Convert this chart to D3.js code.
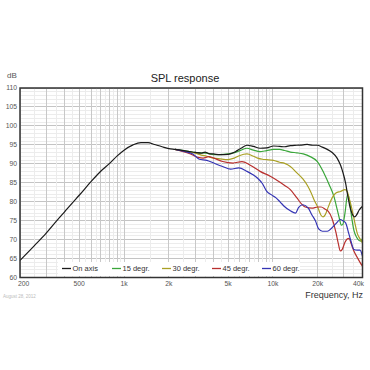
<!DOCTYPE html>
<html><head><meta charset="utf-8">
<script src="https://cdn.jsdelivr.net/npm/d3@7"></script>
<style>body{margin:0;background:#fff}svg{display:block;font-family:"Liberation Sans",Arial,sans-serif}</style>
</head><body><svg id="c" width="370" height="370"></svg>
<script>
const seriesNames = ["On axis","15 degr.","30 degr.","45 degr.","60 degr."];
const seriesColors = ["#1a1a1a","#3aa63a","#aaa024","#b8302e","#3434b4"];
const xTickValues = [200,500,1000,2000,5000,10000,20000,40000];
const xTickLabels = ["200","500","1k","2k","5k","10k","20k","40k"];
const yTickValues = [60,65,70,75,80,85,90,95,100,105,110];

const onAxis = [[200,64.5],[250,68.4],[300,71.7],[350,74.8],[400,77.4],[450,79.7],[500,81.7],[600,85.3],[700,88.1],[800,90.1],[900,92.1],[1000,93.6],[1150,95.0],[1300,95.6],[1450,95.6],[1600,95.1],[1800,94.5],[2000,94.0],[2200,93.8],[2400,93.6],[2700,93.3],[3000,93.0],[3300,92.8],[3500,93.1],[3700,92.7],[4000,92.6],[4400,92.4],[5000,92.5],[5600,93.2],[6100,94.1],[6700,94.9],[7400,94.6],[8200,94.1],[9100,94.2],[10100,94.7],[11100,94.6],[12000,94.5],[13100,94.8],[14500,94.9],[16000,95.0],[17000,95.1],[18500,94.9],[19900,94.9],[21500,94.4],[23200,93.8],[25000,93.0],[27000,91.5],[28500,89.6],[29500,87.8],[30800,84.9],[31900,81.4],[33300,77.9],[34500,76.4],[35500,76.0],[36500,76.5],[38000,77.8],[40000,78.8]];
const deg15 = [[2200,93.8],[2400,93.6],[2700,93.3],[3000,93.0],[3300,92.9],[3600,92.8],[4000,92.4],[4400,92.4],[5000,92.6],[5600,93.0],[6100,93.6],[6700,94.1],[7400,93.6],[8200,93.2],[9100,93.5],[10100,93.8],[11100,93.8],[12000,93.5],[13100,93.1],[14500,92.9],[16000,92.6],[17800,91.9],[19900,90.6],[22000,87.6],[23900,84.5],[25700,81.4],[27060,77.9],[28000,75.5],[28800,73.8],[29500,74.0],[30500,77.0],[31800,82.0],[32800,80.0],[33800,76.0],[35000,72.5],[36500,70.6],[38800,69.6],[40000,70.3]];
const deg30 = [[2200,93.8],[2400,93.5],[2700,93.1],[3000,92.8],[3300,92.3],[3600,92.0],[4000,91.5],[4400,91.3],[5000,91.1],[5500,91.5],[6000,92.2],[6700,92.6],[7400,92.0],[7900,91.5],[8500,91.2],[9100,91.1],[10100,90.9],[11100,90.4],[12000,90.1],[13100,89.3],[14500,87.6],[15900,86.0],[17100,84.2],[18000,82.5],[19000,80.3],[19900,78.8],[21000,76.5],[21700,76.0],[22500,76.6],[23500,78.5],[25000,81.0],[26500,82.3],[28500,82.7],[30500,83.2],[31500,82.8],[32500,81.0],[34000,78.0],[35500,74.5],[37000,71.5],[38500,70.2],[40000,69.1]];
const deg45 = [[2200,93.8],[2500,93.2],[2800,92.6],[3000,92.0],[3150,91.7],[3400,91.5],[3700,91.9],[4000,91.5],[4600,90.6],[5400,90.2],[6200,90.6],[7000,89.7],[8200,88.0],[9600,86.7],[11100,85.2],[12000,84.3],[13100,83.2],[14500,81.0],[15500,79.5],[16500,78.6],[18300,78.3],[20000,78.6],[21100,78.6],[22500,78.0],[23500,77.5],[25000,75.5],[26500,72.0],[27500,69.0],[28400,67.0],[29300,67.5],[30500,69.3],[31600,70.2],[32500,70.3],[33500,69.0],[35000,67.0],[37000,65.2],[38500,64.0],[40000,63.0]];
const deg60 = [[2200,93.8],[2500,93.3],[2900,92.6],[3200,91.2],[3600,90.9],[4000,90.2],[4600,89.3],[5200,88.6],[5900,88.9],[6700,88.0],[7300,87.2],[7900,86.2],[8500,84.8],[9100,82.7],[9800,81.8],[10500,81.0],[11200,79.9],[11900,78.8],[13100,77.6],[14200,77.0],[14900,78.5],[15900,79.2],[17300,78.3],[18300,76.5],[19300,75.0],[20300,72.8],[21500,72.2],[23200,72.2],[24800,73.0],[26500,74.2],[28400,75.3],[29500,75.0],[30800,74.4],[32400,71.5],[33500,69.5],[35000,67.4],[37000,67.2],[38500,67.2],[40000,65.6]];
const seriesData = [onAxis, deg15, deg30, deg45, deg60];

const svg = d3.select("#c");
const L = 20, T = 88, R = 362.5, B = 277.5;
const x = d3.scaleLog().domain([200,40000]).range([L,R]);
const y = d3.scaleLinear().domain([60,110]).range([B,T]);

// grid
const g = svg.append("g");
const hMinor = d3.range(60,111,1);
g.selectAll(".hm").data(hMinor).enter().append("line")
  .attr("x1",L).attr("x2",R).attr("y1",d=>y(d)).attr("y2",d=>y(d))
  .attr("stroke",d=>d%5===0?"#c4c4c4":"#ececec").attr("stroke-width",1).attr("shape-rendering","crispEdges");
const vLines = [];
[100,1000,10000].forEach(dec=>{ for(let m=1;m<10;m+=0.5){ const f=dec*m; if(f>=200&&f<=40000) vLines.push({f, major: m%1===0}); } });
g.selectAll(".vm").data(vLines).enter().append("line")
  .attr("y1",T).attr("y2",B).attr("x1",d=>x(d.f)).attr("x2",d=>x(d.f))
  .attr("stroke",d=>d.major?"#c8c8c8":"#ececec").attr("stroke-width",1).attr("shape-rendering","crispEdges");

// legend background
const lg = svg.append("g");
lg.append("rect").attr("x",58).attr("y",262).attr("width",242).attr("height",14).attr("fill","#fff");

// curves
const line = d3.line().x(d=>x(d[0])).y(d=>y(d[1])).curve(d3.curveMonotoneX);
const order = [1,2,3,4,0];
svg.append("g").selectAll("path").data(order).enter().append("path")
  .attr("d",i=>line(seriesData[i])).attr("fill","none")
  .attr("stroke",i=>seriesColors[i]).attr("stroke-width",1.2).attr("stroke-linejoin","round");

// legend items
seriesNames.forEach((n,i)=>{
  const lx = 62 + i*50;
  lg.append("line").attr("x1",lx).attr("x2",lx+9).attr("y1",268.5).attr("y2",268.5).attr("stroke",seriesColors[i]).attr("stroke-width",1.3);
  lg.append("text").attr("x",lx+10.5).attr("y",271).attr("font-size",7.5).attr("fill","#333").text(n);
});

// frame
svg.append("rect").attr("x",L).attr("y",T).attr("width",R-L).attr("height",B-T)
  .attr("fill","none").attr("stroke","#333").attr("stroke-width",1.5);

// y axis labels
svg.append("g").selectAll("text").data(yTickValues).enter().append("text")
  .attr("x",17).attr("y",d=>y(d)+2.3).attr("text-anchor","end").attr("font-size",6.8).attr("fill","#555").text(d=>d);
svg.append("text").attr("x",7).attr("y",78).attr("font-size",8).attr("fill","#555").text("dB");

// x axis labels
svg.append("g").selectAll("text").data(xTickValues).enter().append("text")
  .attr("x",(d,i)=> i===0 ? 18 : (i===xTickValues.length-1 ? 364 : x(d)))
  .attr("y",286).attr("text-anchor",(d,i)=> i===0?"start":(i===xTickValues.length-1?"end":"middle"))
  .attr("font-size",6.8).attr("fill","#555").text((d,i)=>xTickLabels[i]);

svg.append("text").attr("x",363).attr("y",298).attr("text-anchor","end").attr("font-size",9).attr("fill","#333").text("Frequency, Hz");
svg.append("text").attr("x",185).attr("y",82).attr("text-anchor","middle").attr("font-size",11).attr("fill","#222").text("SPL response");
svg.append("text").attr("x",3).attr("y",298).attr("font-size",4.5).attr("fill","#bbb").text("August 28, 2012");
</script></body></html>
